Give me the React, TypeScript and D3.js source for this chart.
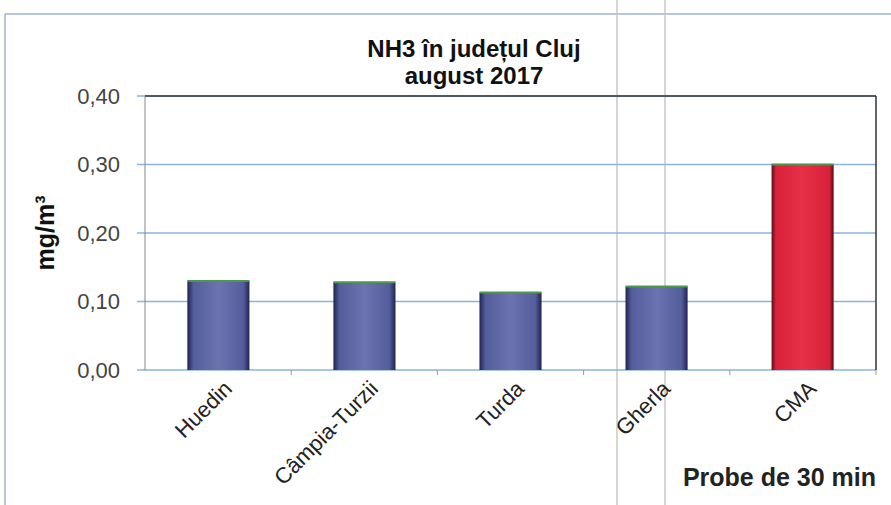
import * as d3 from 'd3';

const categories = ['Huedin', 'Câmpia-Turzii', 'Turda', 'Gherla', 'CMA'];
const values = [0.13, 0.128, 0.113, 0.122, 0.3];
const yTicks = [0, 0.1, 0.2, 0.3, 0.4];

const W = 891;
const H = 505;
const margin = { top: 96, right: 15, bottom: 135, left: 145 };
const plotW = W - margin.left - margin.right;
const plotH = H - margin.top - margin.bottom;

const x = d3.scaleBand<string>().domain(categories).range([0, plotW]).paddingInner(0.575).paddingOuter(0.29);
const y = d3.scaleLinear().domain([0, 0.4]).range([plotH, 0]);
const fmt = (v: number) => v.toFixed(2).replace('.', ',');

export default function App() {
  const step = plotW / categories.length;
  return (
    <svg width={W} height={H} style={{ position: 'absolute', left: 0, top: 0, background: '#fff' }}
      fontFamily="Liberation Sans, Arial, sans-serif">
      <defs>
        <linearGradient id="blue" x1="0" x2="1" y1="0" y2="0">
          <stop offset="0" stopColor="#1e2450" />
          <stop offset="0.1" stopColor="#555e9c" />
          <stop offset="0.5" stopColor="#6b74ae" />
          <stop offset="0.9" stopColor="#555e9c" />
          <stop offset="1" stopColor="#1e2450" />
        </linearGradient>
        <linearGradient id="red" x1="0" x2="1" y1="0" y2="0">
          <stop offset="0" stopColor="#5a0c18" />
          <stop offset="0.07" stopColor="#d8223a" />
          <stop offset="0.5" stopColor="#e53046" />
          <stop offset="0.93" stopColor="#d8223a" />
          <stop offset="1" stopColor="#5a0c18" />
        </linearGradient>
      </defs>
      {/* outer chart frame */}
      <line x1={5} x2={W} y1={14} y2={14} stroke="#9fb3cc" strokeWidth={1.5} />
      <line x1={5} x2={5} y1={14} y2={H} stroke="#9fb3cc" strokeWidth={1.5} />
      {/* scan lines */}
      <line x1={617} x2={617} y1={0} y2={H} stroke="#c8c8c8" strokeWidth={1.5} />
      <line x1={665} x2={665} y1={0} y2={H} stroke="#c8c8c8" strokeWidth={1.5} />

      <text x={474} y={57} textAnchor="middle" fontSize={24} fontWeight="bold" fill="#111">NH3 în județul Cluj</text>
      <text x={474} y={84} textAnchor="middle" fontSize={24} fontWeight="bold" fill="#111">august 2017</text>

      <g transform={`translate(${margin.left},${margin.top})`}>
        {yTicks.map(t => (
          <g key={t}>
            <line x1={-8} x2={plotW} y1={y(t)} y2={y(t)} stroke="#8db3df" strokeWidth={1.5} />
            <text x={-25} y={y(t)} dy="0.35em" textAnchor="end" fontSize={22} fill="#444">{fmt(t)}</text>
          </g>
        ))}
        <line x1={0} x2={plotW} y1={0} y2={0} stroke="#333" strokeWidth={1.5} />
        <line x1={plotW} x2={plotW} y1={0} y2={plotH} stroke="#333" strokeWidth={1.5} />
        <line x1={0} x2={0} y1={0} y2={plotH} stroke="#888" strokeWidth={1} />
        {categories.map((c, i) => (
          <line key={c} x1={step * (i + 1)} x2={step * (i + 1)} y1={plotH} y2={plotH + 5} stroke="#999" />
        ))}
        {categories.map((c, i) => {
          const bx = x(c)!;
          const bw = x.bandwidth();
          const top = y(values[i]);
          return (
            <g key={c}>
              <rect x={bx} y={top} width={bw} height={plotH - top} fill={c === 'CMA' ? 'url(#red)' : 'url(#blue)'} />
              <line x1={bx} x2={bx + bw} y1={top} y2={top} stroke="#4a9a4a" strokeWidth={2} />
              <text transform={`translate(${bx + bw / 2 + 15},${plotH + 20}) rotate(-45)`} textAnchor="end"
                fontSize={22} fill="#222">{c}</text>
            </g>
          );
        })}
      </g>

      <text transform={`translate(54,${margin.top + plotH / 2}) rotate(-90)`} textAnchor="middle" fontSize={25}
        fontWeight="bold" fill="#111">mg/m³</text>
      <text x={876} y={486} textAnchor="end" fontSize={25} fontWeight="bold" fill="#222">Probe de 30 min</text>
    </svg>
  );
}
